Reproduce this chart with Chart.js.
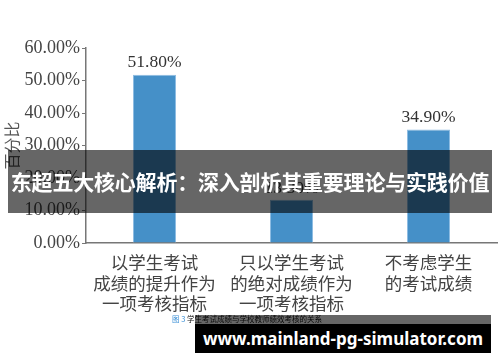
<!DOCTYPE html>
<html>
<head>
<meta charset="utf-8">
<script src="https://cdn.jsdelivr.net/npm/chart.js@4"></script>
<style>
  html, body { margin: 0; padding: 0; background: #fff; }
  #wrap { position: relative; width: 500px; height: 362px; overflow: hidden; }
  #chart { position: absolute; left: 0; top: 0; }
  .banner { position: absolute; left: 8px; top: 150px; width: 484px; height: 63px;
    background: rgba(0,0,0,0.6); color: #fff; font: bold 21px "Noto Sans CJK SC";
    line-height: 63px; text-align: center; white-space: nowrap; letter-spacing: -0.2px; }
  .caption { position: absolute; left: 172px; top: 313px; font: 7.5px "Noto Sans CJK SC";
    color: #111; white-space: nowrap; }
  .caption b { color: #3a8fd6; font-weight: normal; }
  .strip { position: absolute; left: 195px; top: 315px; width: 296px; height: 9px; background: rgba(0,0,0,0.6); }
  .mark { position: absolute; left: 195px; top: 324px; width: 296px; height: 29px; background: #000;
    color: #fff; font: bold 17px "Noto Sans"; line-height: 29px; text-align: center; white-space: nowrap; }
</style>
</head>
<body>
<div id="wrap">
  <canvas id="chart" width="500" height="362"></canvas>
  <div class="caption"><b>图 3</b> 学生考试成绩与学校教师绩效考核的关系</div>
  <div class="strip"></div>
  <div class="banner">东超五大核心解析：深入剖析其重要理论与实践价值</div>
  <div class="mark">www.mainland-pg-simulator.com</div>
</div>
<script>
// 类别与数值
const categories = [
  ['以学生考试', '成绩的提升作为', '一项考核指标'],
  ['只以学生考试', '的绝对成绩作为', '一项考核指标'],
  ['不考虑学生', '的考试成绩']
];
const values = [51.8, 13.3, 34.9];
const yTicks = [0, 10, 20, 30, 40, 50, 60];
const yTitle = '百分比';

const serif = '"Liberation Serif", "Times New Roman", serif';

// 柱顶数值标签
const valueLabels = {
  id: 'valueLabels',
  afterDatasetsDraw(chart) {
    const ctx = chart.ctx;
    const meta = chart.getDatasetMeta(0);
    ctx.save();
    ctx.font = '17.5px ' + serif;
    ctx.fillStyle = '#333';
    ctx.textAlign = 'center';
    ctx.textBaseline = 'bottom';
    meta.data.forEach((bar, i) => {
      ctx.fillText(values[i].toFixed(2) + '%', bar.x, bar.y - 3);
    });
    ctx.restore();
  }
};

new Chart(document.getElementById('chart'), {
  type: 'bar',
  data: {
    labels: categories,
    datasets: [{
      data: values,
      backgroundColor: '#4590c8',
      borderColor: '#8fbde2',
      borderWidth: 1,
      barPercentage: 0.314,
      categoryPercentage: 1
    }]
  },
  options: {
    responsive: false,
    animation: false,
    layout: { padding: { top: 48, right: 3, left: 0, bottom: 0 } },
    plugins: { legend: { display: false }, tooltip: { enabled: false } },
    scales: {
      x: {
        grid: { display: false, drawTicks: false },
        border: { color: '#777', width: 1.5 },
        ticks: {
          color: '#444',
          padding: 9,
          maxRotation: 0,
          autoSkip: false,
          font: { family: '"Noto Sans CJK SC"', size: 17.5, lineHeight: 1.18 }
        },
        afterFit(scale) { scale.height = 119; }
      },
      y: {
        min: 0,
        max: 60,
        afterBuildTicks(scale) { scale.ticks = yTicks.map(v => ({ value: v })); },
        grid: { drawOnChartArea: false, tickLength: 4, color: '#777' },
        border: { color: '#777', width: 1.5 },
        title: {
          display: true,
          text: yTitle,
          color: '#555',
          padding: { top: 2, bottom: 0 },
          font: { family: '"Noto Sans CJK SC"', size: 16 }
        },
        ticks: {
          color: '#444',
          padding: 2,
          font: { family: serif, size: 18 },
          callback: v => v.toFixed(2) + '%'
        },
        afterFit(scale) { scale.width = 86; }
      }
    }
  },
  plugins: [valueLabels]
});
</script>
</body>
</html>
